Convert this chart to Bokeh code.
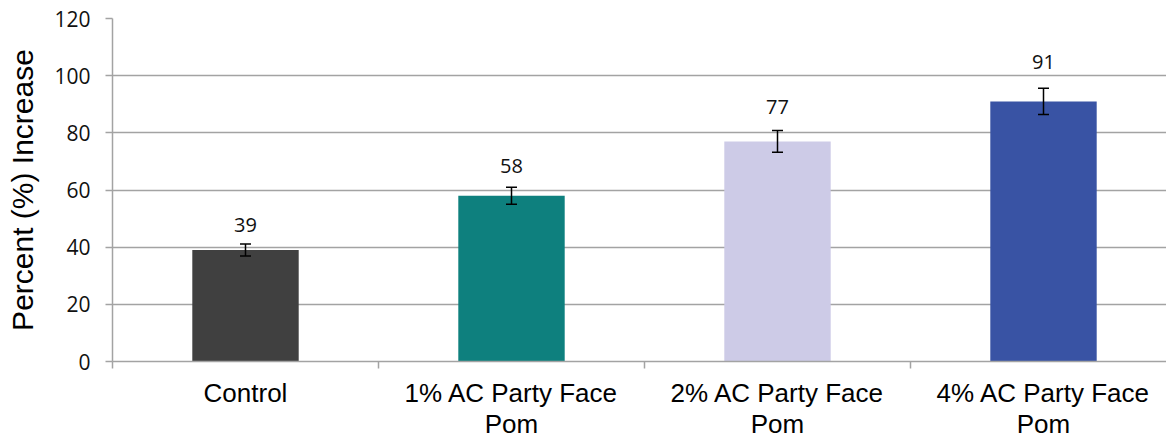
from bokeh.plotting import figure
from bokeh.models import ColumnDataSource, Range1d, FixedTicker, Whisker, TeeHead, LabelSet
from bokeh.core.properties import value
from bokeh.embed import file_html
from bokeh.resources import INLINE

categories = ["Control", "1% AC Party Face\nPom", "2% AC Party Face\nPom", "4% AC Party Face\nPom"]
values = [39, 58, 77, 91]
errors = [2.1, 3.0, 3.8, 4.6]
colors = ["#404040", "#0e807e", "#cdcbe7", "#3953a4"]
y_ticks = [0, 20, 40, 60, 80, 100, 120]

pos = [i + 0.5 for i in range(len(categories))]
src = ColumnDataSource(dict(
    x=pos, top=values, color=colors,
    upper=[v + e for v, e in zip(values, errors)],
    lower=[v - e for v, e in zip(values, errors)],
    label_y=[v + 2 * e for v, e in zip(values, errors)],
    label=[str(v) for v in values],
))

W, H = 1166, 443
left, top_b, bottom_b = 112, 18, 82
frame_w = W - left
cat_px = 266.0

p = figure(width=W, height=H, output_backend="svg", toolbar_location=None,
           x_range=Range1d(0, frame_w / cat_px), y_range=Range1d(0, 120),
           min_border_left=left, min_border_right=0, min_border_top=top_b,
           min_border_bottom=bottom_b)
p.outline_line_color = None
p.background_fill_color = "white"
p.border_fill_color = "white"

p.vbar(x="x", top="top", width=0.4, bottom=0, color="color", line_color=None, source=src)

w = Whisker(source=src, base="x", upper="upper", lower="lower", level="overlay",
            line_color="black", line_width=1.5,
            upper_head=TeeHead(size=11, line_color="black", line_width=1.5),
            lower_head=TeeHead(size=11, line_color="black", line_width=1.5))
p.add_layout(w)

labels = LabelSet(x="x", y="label_y", text="label", source=src, level="overlay",
                  text_align="center", text_baseline="alphabetic", y_offset=6,
                  text_font=value("Open Sans"), text_font_size="20px", text_color="#111111")
p.add_layout(labels)

# grids
p.xgrid.grid_line_color = None
p.ygrid.ticker = FixedTicker(ticks=y_ticks)
p.ygrid.grid_line_color = "#a3a3a3"
p.ygrid.grid_line_width = 1.5

# y axis
ya = p.yaxis[0]
ya.ticker = FixedTicker(ticks=y_ticks)
ya.axis_label = "Percent (%) Increase"
ya.axis_label_text_font = "Liberation Sans"
ya.axis_label_text_font_size = "30px"
ya.axis_label_text_font_style = "normal"
ya.axis_label_text_color = "black"
ya.axis_label_standoff = 12
ya.major_label_text_font = "Open Sans"
ya.major_label_text_font_size = "21px"
ya.major_label_text_color = "#111111"
ya.major_label_standoff = 15
ya.axis_line_color = "#a3a3a3"
ya.axis_line_width = 1.5
ya.major_tick_line_color = "#a3a3a3"
ya.major_tick_line_width = 1.5
ya.major_tick_out = 7
ya.major_tick_in = 0
ya.minor_tick_line_color = None

# x axis
xa = p.xaxis[0]
xa.ticker = FixedTicker(ticks=pos, minor_ticks=[0, 1, 2, 3, 4])
xa.major_label_overrides = {pp: c for pp, c in zip(pos, categories)}
xa.major_label_text_font = "Liberation Sans"
xa.major_label_text_font_size = "26px"
xa.major_label_text_line_height = 1.05
xa.major_label_text_color = "black"
xa.major_label_standoff = 9
xa.axis_line_color = "#a3a3a3"
xa.axis_line_width = 1.5
xa.major_tick_line_color = None
xa.major_tick_out = 0
xa.major_tick_in = 0
xa.minor_tick_line_color = "#a3a3a3"
xa.minor_tick_line_width = 1.5
xa.minor_tick_out = 7
xa.minor_tick_in = 0

open("out.html", "w").write(file_html(p, INLINE))
